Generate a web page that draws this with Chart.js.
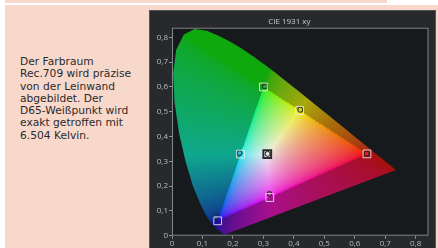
<!DOCTYPE html>
<html>
<head>
<meta charset="utf-8">
<script src="https://cdn.jsdelivr.net/npm/chart.js@4"></script>
<style>
  html, body { margin: 0; padding: 0; background: #fff; width: 438px; height: 248px; overflow: hidden; }
  #stripTop { position: absolute; left: 5px; top: 0; width: 382px; height: 3px; background: #f8d8cb; }
  #box { position: absolute; left: 5px; top: 5px; width: 433px; height: 243px; background: #f8d8cb; }
  #text { position: absolute; left: 20px; top: 56px; width: 128px; font-family: "DejaVu Sans", sans-serif;
          font-size: 10.7px; line-height: 12.25px; color: #2b2b2b; white-space: nowrap; }
  #panel { position: absolute; left: 149px; top: 10px; width: 285px; height: 240px; background: #27292c; border: 1px solid #4d555c; }
  #chart { position: absolute; left: 150px; top: 10px; }
</style>
</head>
<body>
<div id="stripTop"></div>
<div id="box"></div>
<div id="text">Der Farbraum<br>Rec.709 wird präzise<br>von der Leinwand<br>abgebildet. Der<br>D65-Weißpunkt wird<br>exakt getroffen mit<br>6.504 Kelvin.</div>
<div id="panel"></div>
<canvas id="chart" width="286" height="238"></canvas>
<script>
// spectral locus (CIE 1931 2°), 380..700 nm
const locusX = [0.1741, 0.1733, 0.1714, 0.1644, 0.1611, 0.1566, 0.1510, 0.1440, 0.1355, 0.1241, 0.1096, 0.0913,
  0.0687, 0.0454, 0.0235, 0.0082, 0.0039, 0.0139, 0.0389, 0.0743, 0.1142, 0.1547, 0.1929, 0.2296, 0.2658,
  0.3016, 0.3373, 0.3731, 0.4087, 0.4441, 0.4788, 0.5125, 0.5448, 0.5752, 0.6029, 0.6270, 0.6658, 0.6915,
  0.7079, 0.7190, 0.7260, 0.7347];
const locusY = [0.0050, 0.0048, 0.0051, 0.0109, 0.0138, 0.0177, 0.0227, 0.0297, 0.0399, 0.0578, 0.0868, 0.1327,
  0.2007, 0.2950, 0.4127, 0.5384, 0.6548, 0.7502, 0.8120, 0.8338, 0.8262, 0.8059, 0.7816, 0.7543, 0.7243,
  0.6923, 0.6589, 0.6245, 0.5896, 0.5547, 0.5202, 0.4866, 0.4544, 0.4242, 0.3965, 0.3725, 0.3340, 0.3083,
  0.2920, 0.2809, 0.2740, 0.2653];

const names = ['Rot', 'Gelb', 'Grün', 'Cyan', 'Blau', 'Magenta', 'Weiß'];
const targetX = [0.640, 0.419, 0.300, 0.225, 0.150, 0.321, 0.3127];
const targetY = [0.330, 0.505, 0.600, 0.329, 0.060, 0.154, 0.3290];
const measuredX = [0.639, 0.421, 0.305, 0.222, 0.144, 0.320, 0.314];
const measuredY = [0.331, 0.508, 0.602, 0.333, 0.075, 0.168, 0.330];
const dotColors = ['#d82424', '#d8d818', '#2f9e3e', '#38b8d8', '#2448b0', '#b83c9c', '#e6e6e6'];

const xTicks = [0, 0.1, 0.2, 0.3, 0.4, 0.5, 0.6, 0.7, 0.8];
const xTickLabels = ['0', '0,1', '0,2', '0,3', '0,4', '0,5', '0,6', '0,7', '0,8'];
const yTicks = [0, 0.1, 0.2, 0.3, 0.4, 0.5, 0.6, 0.7, 0.8];
const yTickLabels = ['0', '0,1', '0,2', '0,3', '0,4', '0,5', '0,6', '0,7', '0,8'];

const toPoints = (xs, ys) => xs.map((x, i) => ({ x: x, y: ys[i] }));

function gam(c) {
  return c <= 0.0031308 ? 12.92 * c : 1.055 * Math.pow(c, 1 / 2.4) - 0.055;
}

// xy -> sRGB, dimmed outside the Rec.709 triangle
function xyToRgb(x, y) {
  if (y < 0.0005) y = 0.0005;
  const X = x / y, Z = (1 - x - y) / y;
  let r = 3.2406 * X - 1.5372 - 0.4986 * Z;
  let g = -0.9689 * X + 1.8758 + 0.0415 * Z;
  let b = 0.0557 * X - 0.2040 + 1.0570 * Z;
  const inside = r >= 0 && g >= 0 && b >= 0;
  r = Math.max(r, 0); g = Math.max(g, 0); b = Math.max(b, 0);
  const m = Math.max(r, g, b) || 1;
  const k = inside ? 0.93 : 0.6;
  const o = inside ? 0 : 0.06;
  const c = [r, g, b].map(v => gam(v / m) * k + o);
  if (!inside) c[2] *= 0.85;
  return c.map(v => Math.round(255 * v));
}

const frame = {
  id: 'frame',
  beforeDraw(chart) {
    const { ctx, chartArea: a } = chart;
    ctx.save();
    ctx.fillStyle = '#161a1d';
    ctx.fillRect(a.left, a.top, a.width, a.height);
    ctx.restore();
  },
  afterDatasetsDraw(chart) {
    const { ctx, chartArea: a } = chart;
    ctx.save();
    ctx.strokeStyle = '#7f878a';
    ctx.lineWidth = 1;
    ctx.strokeRect(a.left + 0.5, a.top + 0.5, a.width - 1, a.height - 1);
    ctx.restore();
  }
};

const locusFill = {
  id: 'locusFill',
  beforeDatasetsDraw(chart) {
    const { ctx, chartArea: a } = chart;
    const xs = chart.scales.x, ys = chart.scales.y;
    const w = Math.ceil(a.width), h = Math.ceil(a.height);
    const off = document.createElement('canvas');
    off.width = w; off.height = h;
    const octx = off.getContext('2d');
    const img = octx.createImageData(w, h);
    for (let j = 0; j < h; j++) {
      const yv = ys.getValueForPixel(a.top + j + 0.5);
      for (let i = 0; i < w; i++) {
        const xv = xs.getValueForPixel(a.left + i + 0.5);
        const c = xyToRgb(xv, yv);
        const p = (j * w + i) * 4;
        img.data[p] = c[0]; img.data[p + 1] = c[1]; img.data[p + 2] = c[2]; img.data[p + 3] = 255;
      }
    }
    octx.putImageData(img, 0, 0);
    const pts = chart.getDatasetMeta(0).data;
    ctx.save();
    ctx.beginPath();
    pts.forEach((p, k) => k ? ctx.lineTo(p.x, p.y) : ctx.moveTo(p.x, p.y));
    ctx.closePath();
    ctx.clip();
    ctx.drawImage(off, a.left, a.top);
    ctx.restore();
  }
};

const tickFont = { family: 'Open Sans', size: 8 };
const tickColor = '#b9bec1';

new Chart(document.getElementById('chart'), {
  type: 'scatter',
  data: {
    datasets: [{
      label: 'Spektralfarbenzug',
      data: toPoints(locusX, locusY),
      showLine: false,
      pointRadius: 0
    }, {
      label: 'Soll (Rec.709)',
      data: toPoints(targetX, targetY),
      pointStyle: 'rect',
      pointRadius: 5.5,
      backgroundColor: 'rgba(0,0,0,0)',
      borderColor: ['rgba(235,235,235,0.85)', 'rgba(235,235,235,0.85)', 'rgba(235,235,235,0.85)',
        'rgba(235,235,235,0.85)', 'rgba(235,235,235,0.85)', 'rgba(235,235,235,0.85)', '#2a2a2a'],
      borderWidth: [1, 1, 1, 1, 1, 1, 2]
    }, {
      label: 'Gemessen',
      data: toPoints(measuredX, measuredY),
      pointStyle: 'circle',
      pointRadius: 2.5,
      backgroundColor: dotColors,
      borderColor: '#1d1d1d',
      borderWidth: 1
    }]
  },
  options: {
    responsive: false,
    animation: false,
    events: [],
    layout: { padding: { left: 0, right: 7.3, top: 0, bottom: 0 } },
    plugins: {
      legend: { display: false },
      tooltip: { enabled: false },
      title: {
        display: true,
        text: 'CIE 1931 xy',
        color: '#c9cdd0',
        font: { family: 'Open Sans', size: 8, weight: 'normal' },
        padding: { top: 6.5, bottom: 1.6 }
      }
    },
    scales: {
      x: {
        type: 'linear',
        min: 0,
        max: 0.842,
        afterBuildTicks: s => { s.ticks = xTicks.map(v => ({ value: v })); },
        afterFit: s => { s.height = 12.3; },
        ticks: { color: tickColor, font: tickFont, padding: 0, autoSkip: false, maxRotation: 0,
                 callback: (v, i) => xTickLabels[i] },
        grid: { drawOnChartArea: false, color: '#8c9294', tickLength: 3 },
        border: { display: false }
      },
      y: {
        type: 'linear',
        min: 0,
        max: 0.839,
        afterBuildTicks: s => { s.ticks = yTicks.map(v => ({ value: v })); },
        afterFit: s => { s.width = 22; },
        ticks: { color: tickColor, font: tickFont, padding: 1, autoSkip: false,
                 callback: (v, i) => yTickLabels[i] },
        grid: { drawOnChartArea: false, color: '#8c9294', tickLength: 3 },
        border: { display: false }
      }
    }
  },
  plugins: [frame, locusFill]
});
</script>
</body>
</html>
